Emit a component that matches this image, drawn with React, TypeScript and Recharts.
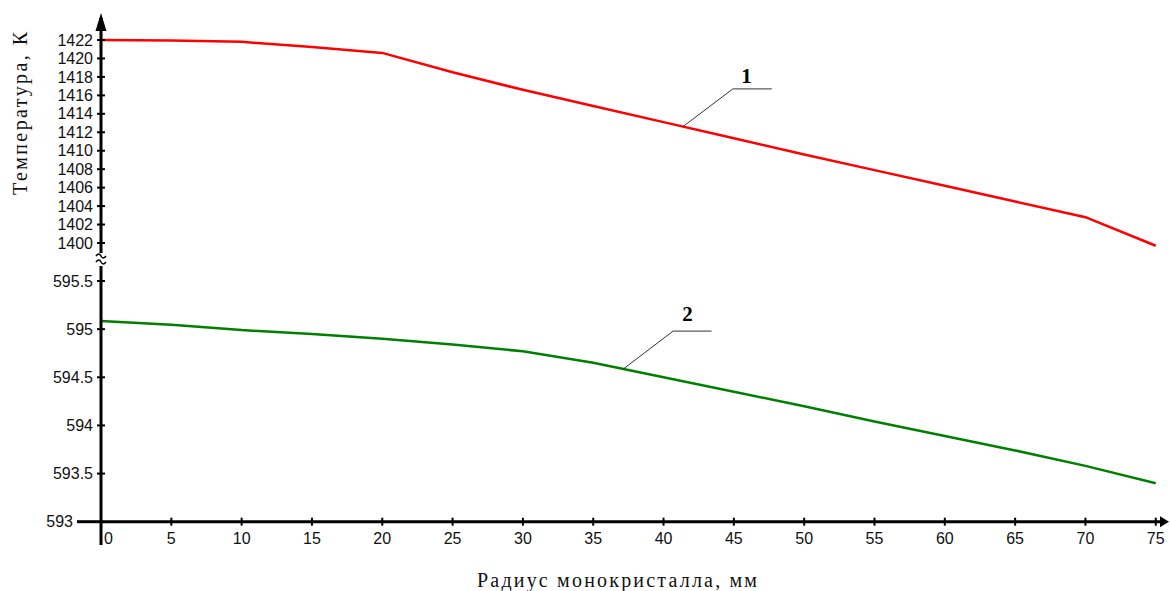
import React from "react";
import { LineChart, Line, XAxis, YAxis, ReferenceLine, ReferenceDot } from "recharts";

// radius of the monocrystal, mm
const radius = [0, 5, 10, 15, 20, 25, 30, 35, 40, 45, 50, 55, 60, 65, 70, 75];
// curve 1 (upper part of the broken axis), K
const temp1 = [1422.0, 1421.95, 1421.8, 1421.25, 1420.6, 1418.5, 1416.6, 1414.85, 1413.1, 1411.35, 1409.6, 1407.9, 1406.2, 1404.5, 1402.8, 1399.7];
// curve 2 (lower part of the broken axis), K
const temp2 = [595.086, 595.047, 594.99, 594.95, 594.9, 594.84, 594.77, 594.65, 594.5, 594.35, 594.2, 594.04, 593.89, 593.74, 593.58, 593.4];

const xTicks = [0, 5, 10, 15, 20, 25, 30, 35, 40, 45, 50, 55, 60, 65, 70, 75];
const upperTicks = [1400, 1402, 1404, 1406, 1408, 1410, 1412, 1414, 1416, 1418, 1420, 1422];
const lowerTicks = [593, 593.5, 594, 594.5, 595, 595.5];

const upperData = radius.map((r, i) => ({ r, t: temp1[i] }));
const lowerData = radius.map((r, i) => ({ r, t: temp2[i] }));

const W = 1170;
const H = 591;
const AX = 101; // y axis width => x of the axis line
const PB = 521.7; // lower plot bottom (x axis line)
const XAXIS_H = 40;
const TICK_FONT = "'Liberation Sans', Arial, sans-serif";
const TITLE_FONT = "'Liberation Serif', 'Times New Roman', serif";

const YTick = (props: any) => {
  const { y, payload } = props;
  const v = payload.value;
  if (v === 593) {
    return (
      <text x={AX - 28} y={y} dy="0.35em" textAnchor="end" fontSize={16} fontFamily={TICK_FONT} fill="#111">
        {v}
      </text>
    );
  }
  return (
    <g>
      <line x1={AX - 4} x2={AX + 4} y1={y} y2={y} stroke="#000" strokeWidth={2} />
      <text x={AX - 8} y={y} dy="0.35em" textAnchor="end" fontSize={16} fontFamily={TICK_FONT} fill="#111">
        {v}
      </text>
    </g>
  );
};

const XTick = (props: any) => {
  const { x, payload } = props;
  const v = payload.value;
  return (
    <g>
      {v !== 0 && <line x1={x} x2={x} y1={PB - 4} y2={PB + 4} stroke="#000" strokeWidth={2} />}
      <text x={v === 0 ? x + 3 : x} y={538} dy="0.35em" textAnchor={v === 0 ? "start" : "middle"} fontSize={16} fontFamily={TICK_FONT} fill="#111">
        {v}
      </text>
    </g>
  );
};

const Num = (txt: string) => (p: any) => (
  <text x={p.cx} y={p.cy} dy="0.35em" textAnchor="middle" fontSize={21} fontWeight="bold" fontFamily={TITLE_FONT} fill="#000">
    {txt}
  </text>
);

export default function App() {
  const xDomain: [number, number] = [0, 75.6];
  return (
    <div style={{ position: "absolute", left: 0, top: 0, width: W, height: H, background: "#fff", overflow: "hidden" }}>
      <div style={{ position: "absolute", left: 0, top: 0 }}>
        <LineChart width={W} height={253} data={upperData} margin={{ top: 18, right: 5.8, bottom: 0, left: 0 }}>
          <XAxis type="number" dataKey="r" domain={xDomain} allowDataOverflow hide />
          <YAxis
            type="number"
            domain={[1398.916, 1424.384]}
            allowDataOverflow
            ticks={upperTicks}
            interval={0}
            width={AX}
            tickSize={0}
            tickMargin={0}
            tickLine={false}
            axisLine={{ stroke: "#000", strokeWidth: 3 }}
            tick={YTick}
          />
          <Line type="linear" dataKey="t" stroke="#ff0000" strokeWidth={2.5} dot={false} isAnimationActive={false} />
          <ReferenceLine segment={[{ x: 41.37, y: 1412.6 }, { x: 44.93, y: 1416.7 }]} stroke="#333" strokeWidth={1} />
          <ReferenceLine segment={[{ x: 44.93, y: 1416.7 }, { x: 47.7, y: 1416.7 }]} stroke="#333" strokeWidth={1} />
          <ReferenceDot x={45.9} y={1418.1} r={0} shape={Num("1")} />
        </LineChart>
      </div>
      <div style={{ position: "absolute", left: 0, top: 0 }}>
        <LineChart width={W} height={H} data={lowerData} margin={{ top: 266, right: 5.8, bottom: H - PB - XAXIS_H, left: 0 }}>
          <XAxis
            type="number"
            dataKey="r"
            domain={xDomain}
            allowDataOverflow
            ticks={xTicks}
            interval={0}
            height={XAXIS_H}
            tickSize={0}
            tickMargin={0}
            tickLine={false}
            axisLine={{ stroke: "#000", strokeWidth: 3 }}
            tick={XTick}
          />
          <YAxis
            type="number"
            domain={[593, 595.656]}
            allowDataOverflow
            ticks={lowerTicks}
            interval={0}
            width={AX}
            tickSize={0}
            tickMargin={0}
            tickLine={false}
            axisLine={{ stroke: "#000", strokeWidth: 3 }}
            tick={YTick}
          />
          <Line type="linear" dataKey="t" stroke="#008000" strokeWidth={2.5} dot={false} isAnimationActive={false} />
          <ReferenceLine segment={[{ x: 37.13, y: 594.585 }, { x: 40.68, y: 594.98 }]} stroke="#333" strokeWidth={1} />
          <ReferenceLine segment={[{ x: 40.68, y: 594.98 }, { x: 43.41, y: 594.98 }]} stroke="#333" strokeWidth={1} />
          <ReferenceDot x={41.7} y={595.156} r={0} shape={Num("2")} />
        </LineChart>
      </div>
      <svg width={W} height={H} style={{ position: "absolute", left: 0, top: 0, pointerEvents: "none" }}>
        {/* axis arrows and break */}
        <line x1={AX} x2={AX} y1={30} y2={18} stroke="#000" strokeWidth={3} />
        <polygon points={`${AX},13 ${AX - 5.5},31 ${AX + 5.5},31`} fill="#000" />
        <path d={`M${AX - 5},256 q3,-4 5,0 t5,0`} stroke="#000" strokeWidth={1.5} fill="none" />
        <path d={`M${AX - 5},262 q3,-4 5,0 t5,0`} stroke="#000" strokeWidth={1.5} fill="none" />
        <line x1={AX} x2={AX} y1={PB} y2={545} stroke="#000" strokeWidth={3} />
        <line x1={77} x2={AX} y1={PB} y2={PB} stroke="#000" strokeWidth={3} />
        <polygon points={`1169,${PB} 1160,${PB - 5.5} 1160,${PB + 5.5}`} fill="#000" />
        <text
          x={20}
          y={113.5}
          transform="rotate(-90 20 113.5)"
          textAnchor="middle"
          dy="0.35em"
          fontSize={20}
          fontFamily={TITLE_FONT}
          textLength={163}
          lengthAdjust="spacing"
          fill="#111"
        >
          Температура, К
        </text>
        <text x={617} y={587} textAnchor="middle" fontSize={20} fontFamily={TITLE_FONT} textLength={280} lengthAdjust="spacing" fill="#111">
          Радиус монокристалла, мм
        </text>
      </svg>
    </div>
  );
}
